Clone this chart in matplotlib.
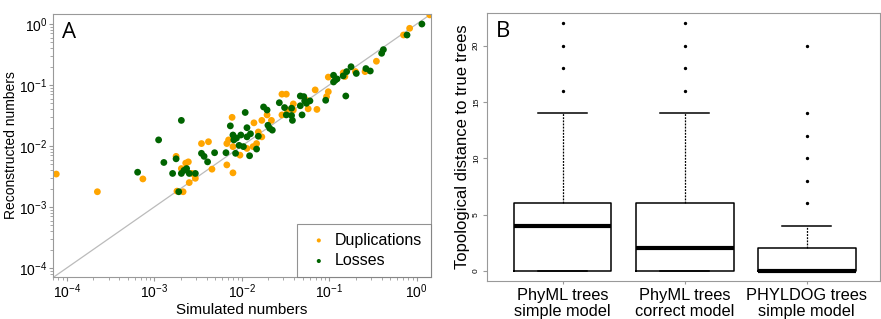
import numpy as np
import matplotlib.pyplot as plt
from matplotlib.ticker import LogLocator, NullFormatter

plt.rcParams['font.family'] = ['Liberation Sans', 'DejaVu Sans']

# Panel A: log10 of simulated / reconstructed numbers
dup_x = [-4.12, -3.65, -3.13, -2.75, -2.74, -2.67, -2.69, -2.64, -2.61, -2.60, -2.57, -2.53,
         -2.46, -2.38, -2.34, -2.17, -2.15, -2.17, -2.10, -2.11, -2.10, -2.02, -1.94, -1.87,
         -1.86, -1.83, -1.81, -1.77, -1.77, -1.71, -1.66, -1.54, -1.49, -1.54, -1.48, -1.41,
         -1.41, -1.26, -1.24, -1.16, -1.14, -1.03, -1.01, -1.01, -0.84, -0.82, -0.70, -0.59,
         -0.46, -0.15, -0.08, 0.15]
dup_y = [-2.46, -2.75, -2.54, -2.17, -2.74, -2.75, -2.37, -2.28, -2.26, -2.60, -2.45, -2.53,
         -1.96, -1.93, -2.38, -1.96, -1.90, -2.31, -2.44, -1.53, -2.01, -2.15, -2.04, -2.01,
         -1.62, -1.96, -1.77, -1.85, -1.58, -1.49, -1.58, -1.15, -1.15, -1.49, -1.41, -1.31,
         -1.41, -1.25, -1.39, -1.08, -1.40, -1.19, -0.87, -1.11, -0.80, -0.86, -0.78, -0.78,
         -0.61, -0.18, -0.07, 0.15]
loss_x = [-3.19, -2.95, -2.89, -2.79, -2.75, -2.72, -2.69, -2.69, -2.66, -2.63, -2.60, -2.53,
          -2.46, -2.43, -2.39, -2.31, -2.18, -2.13, -2.10, -2.09, -2.07, -2.06, -2.03, -2.01,
          -1.98, -1.96, -1.94, -1.94, -1.91, -1.90, -1.83, -1.81, -1.75, -1.71, -1.70, -1.68,
          -1.65, -1.57, -1.51, -1.49, -1.43, -1.43, -1.42, -1.33, -1.33, -1.31, -1.29, -1.28,
          -1.26, -1.22, -1.04, -0.95, -0.95, -0.93, -0.91, -0.84, -0.80, -0.81, -0.75, -0.69,
          -0.58, -0.53, -0.40, -0.38, -0.11, 0.06]
loss_y = [-2.43, -1.90, -2.27, -2.45, -2.21, -2.75, -1.58, -2.45, -2.40, -2.37, -2.45, -2.45,
          -2.12, -2.17, -2.26, -2.11, -2.11, -1.67, -1.82, -1.90, -2.12, -1.87, -1.99, -1.82,
          -2.01, -1.45, -1.85, -1.70, -2.16, -1.80, -2.05, -1.84, -1.36, -1.41, -1.66, -1.71,
          -1.74, -1.29, -1.37, -1.49, -1.38, -1.50, -1.58, -1.18, -1.34, -1.49, -1.19, -1.26,
          -1.30, -1.26, -1.25, -0.84, -0.95, -0.92, -0.90, -0.85, -0.78, -1.18, -0.70, -0.81,
          -0.73, -0.77, -0.48, -0.42, -0.18, 0.00]

# Panel B: box statistics of topological distances
methods = ['PhyML trees\nsimple model', 'PhyML trees\ncorrect model', 'PHYLDOG trees\nsimple model']
q1 = [0, 0, 0]
med = [4, 2, 0]
q3 = [6, 6, 2]
whislo = [0, 0, 0]
whishi = [14, 14, 4]
fliers = [[16, 18, 20, 22], [16, 18, 20, 22], [6, 8, 10, 12, 14, 20]]

fig = plt.figure(figsize=(8.81, 3.19), dpi=100)
spine_col = '#999999'

# ---- Panel A
ax = fig.add_axes([0.0602, 0.1317, 0.4288, 0.8243])
ax.set_xscale('log')
ax.set_yscale('log')
ax.set_xlim(10 ** -4.157, 10 ** 0.162)
ax.set_ylim(10 ** -4.148, 10 ** 0.164)
ax.plot([1e-5, 10], [1e-5, 10], color='#bbbbbb', lw=0.9, zorder=1)
ax.scatter(10 ** np.array(dup_x), 10 ** np.array(dup_y), s=24, color='#ffa500',
           edgecolors='none', label='Duplications', zorder=2)
ax.scatter(10 ** np.array(loss_x), 10 ** np.array(loss_y), s=24, color='#006400',
           edgecolors='none', label='Losses', zorder=3)
for a in ('x', 'y'):
    getattr(ax, a + 'axis').set_major_locator(LogLocator(base=10, numticks=10))
    getattr(ax, a + 'axis').set_minor_locator(LogLocator(base=10, subs=np.arange(2, 10), numticks=10))
    getattr(ax, a + 'axis').set_minor_formatter(NullFormatter())
ax.tick_params(which='major', labelsize=10, length=3, color=spine_col, pad=1)
ax.tick_params(which='minor', length=2, color=spine_col)
for s in ax.spines.values():
    s.set_color(spine_col)
ax.set_xlabel('Simulated numbers', fontsize=11, labelpad=1)
ax.set_ylabel('Reconstructed numbers', fontsize=10, labelpad=1)
ax.text(0.025, 0.97, 'A', transform=ax.transAxes, fontsize=16, va='top', ha='left',
        family=['Open Sans', 'DejaVu Sans'])
leg = ax.legend(loc='lower right', fontsize=11.5, frameon=True, fancybox=False,
                borderaxespad=0, handletextpad=0.2, markerscale=0.6, borderpad=0.55,
                handlelength=1.6, labelspacing=0.35)
leg.get_frame().set_edgecolor('#777777')
leg.get_frame().set_linewidth(0.8)

# ---- Panel B
bx = fig.add_axes([0.5528, 0.119, 0.446, 0.840])
stats = []
for i in range(3):
    stats.append(dict(med=med[i], q1=q1[i], q3=q3[i], whislo=whislo[i], whishi=whishi[i],
                      fliers=fliers[i]))
bx.bxp(stats, positions=[1, 2, 3], widths=0.8,
       boxprops=dict(color='black', lw=1.1),
       medianprops=dict(color='black', lw=3),
       whiskerprops=dict(color='black', lw=0.9, ls=(0, (1.5, 1))),
       capprops=dict(color='black', lw=1.1),
       capwidths=0.4,
       flierprops=dict(marker='o', markersize=1.4, markerfacecolor='black',
                       markeredgecolor='black', ls='none'))
bx.set_xlim(0.38, 3.6)
bx.set_ylim(-0.9, 22.9)
bx.set_yticks([0, 5, 10, 15, 20])
bx.set_yticklabels(['0', '5', '10', '15', '20'], rotation=90, va='center')
bx.set_xticks([1, 2, 3])
bx.set_xticklabels(methods, fontsize=11.8, linespacing=1.05)
bx.tick_params(axis='y', labelsize=6, length=3, color=spine_col, pad=2)
bx.tick_params(axis='x', length=2, color=spine_col, pad=3)
for s in bx.spines.values():
    s.set_color(spine_col)
bx.set_ylabel('Topological distance to true trees', fontsize=12, labelpad=2)
bx.text(0.022, 0.97, 'B', transform=bx.transAxes, fontsize=16, va='top', ha='left',
        family=['Open Sans', 'DejaVu Sans'])

fig.savefig('out.png', dpi=100)
